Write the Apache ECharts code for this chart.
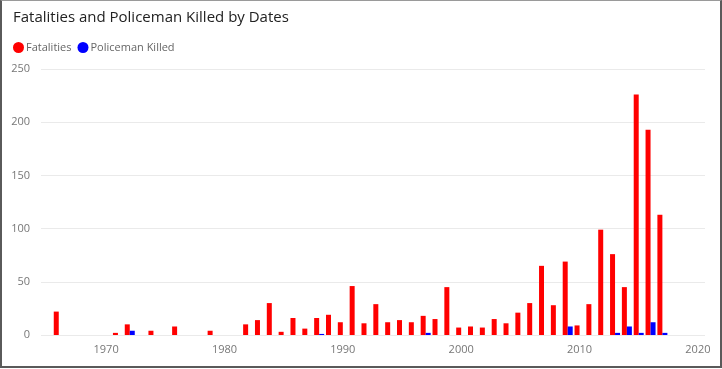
<!DOCTYPE html>
<html><head><meta charset="utf-8">
<script src="https://cdn.jsdelivr.net/npm/echarts@6/dist/echarts.min.js"></script>
<style>
html,body{margin:0;padding:0;background:#fff;}
#c{position:absolute;left:0;top:0;width:722px;height:369px;}
#frame{position:absolute;left:0;top:0;width:718px;height:365px;border:2px solid #5a5a5a;border-top:1px solid #9a9a9a;pointer-events:none;}
</style></head>
<body>
<div id="c"></div>
<div id="frame"></div>
<script>
const years = [1966,1971,1972,1974,1976,1979,1982,1983,1984,1985,1986,1987,1988,1989,1990,1991,1992,1993,1994,1995,1996,1997,1998,1999,2000,2001,2002,2003,2004,2005,2006,2007,2008,2009,2010,2011,2012,2013,2014,2015,2016,2017];
const fatalities = [22,2,10,4,8,4,10,14,30,3,16,6,16,19,12,46,11,29,12,14,12,18,15,45,7,8,7,15,11,21,30,65,28,69,9,29,99,76,45,226,193,113];
const policemanKilled = [0,0,4,0,0,0,0,0,0,0,0,0,1,0,0,0,0,0,0,0,0,2,0,0,0,0,0,0,0,0,0,0,0,8,0,0,0,2,8,2,12,2];
const xTicks = [1970,1980,1990,2000,2010,2020];
const yTicks = [0,50,100,150,200,250];

const chart = echarts.init(document.getElementById('c'), null, {renderer:'canvas'});
const font = '"Open Sans", "Noto Sans", sans-serif';
chart.setOption({
  animation:false,
  textStyle:{fontFamily:font},
  title:{text:'Fatalities and Policeman Killed by Dates', left:8, top:5,
    textStyle:{fontFamily:font, fontSize:15, fontWeight:'normal', color:'#222'}},
  legend:{left:8, top:37, icon:'circle', itemWidth:11, itemHeight:11, itemGap:6,
    textStyle:{fontFamily:font, fontSize:11, color:'#666', padding:[0,0,0,-3]},
    data:['Fatalities','Policeman Killed']},
  grid:{left:41, right:17, top:69, bottom:34, containLabel:false},
  xAxis:{type:'value', min:1964.5, max:2020.6,
    axisLine:{show:false}, axisTick:{show:false}, splitLine:{show:false},
    axisLabel:{customValues:xTicks, formatter:v=>String(v), color:'#777', fontSize:11, margin:9, fontFamily:font}},
  yAxis:{type:'value', min:0, max:250, interval:50,
    axisLine:{show:false}, axisTick:{show:false},
    splitLine:{lineStyle:{color:'#eaeaea', width:1}},
    axisLabel:{color:'#777', fontSize:11, margin:11, fontFamily:font}},
  series:[
    {name:'Fatalities', type:'bar', barWidth:5, barGap:'0%',
     itemStyle:{color:'#ff0000'},
     data:years.map((y,i)=>[y,fatalities[i]])},
    {name:'Policeman Killed', type:'bar', barWidth:5, barGap:'0%',
     itemStyle:{color:'#0000ff'},
     data:years.map((y,i)=>[y,policemanKilled[i]])}
  ]
});
</script>
</body></html>
